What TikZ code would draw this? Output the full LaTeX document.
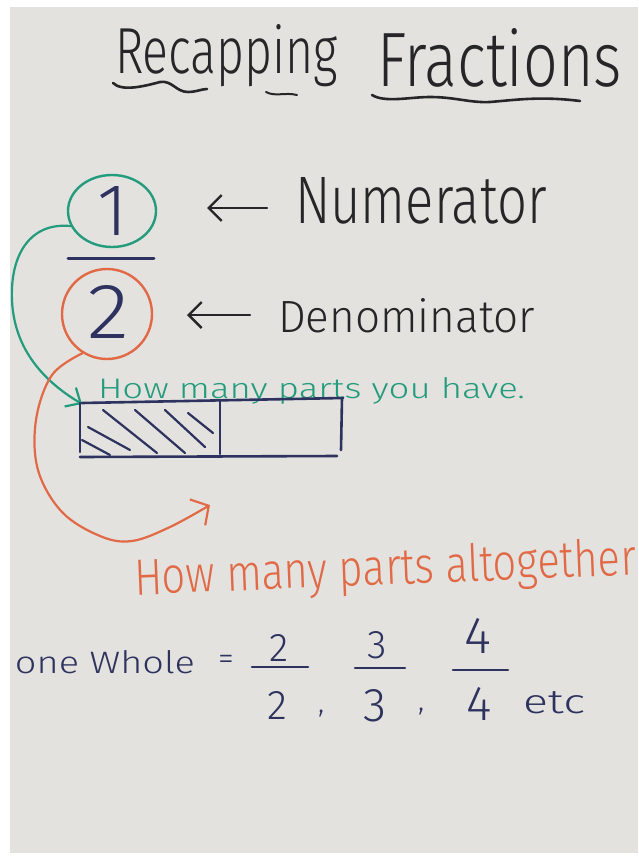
\documentclass[tikz,border=0pt]{standalone}
\usepackage{fontspec}
\setmainfont{Fira Sans Light}
\usepackage{graphicx}
\usetikzlibrary{arrows.meta,shapes.geometric}
\definecolor{paper}{RGB}{227,226,222}
\definecolor{mkblack}{RGB}{38,38,40}
\definecolor{mknavy}{RGB}{45,50,95}
\definecolor{mkgreen}{RGB}{35,155,125}
\definecolor{mkorange}{RGB}{225,105,70}
\newcommand\hw[3]{\resizebox{#1}{#2}{#3}}
\begin{document}
\begin{tikzpicture}[x=1pt,y=-1pt,
  txt/.style={inner sep=0pt, outer sep=0pt, anchor=base west},
  dig/.style={inner sep=0pt, outer sep=0pt, anchor=center, text=mknavy},
  pen/.style={line width=2.6pt, line cap=round, line join=round},
  ring/.style={ellipse, draw, line width=2.4pt, inner sep=0pt},
  barb/.style={-{Straight Barb[length=13pt,width=26pt,line width=2.4pt]}}]
\useasboundingbox (0,0) rectangle (638,859);
\fill[white] (0,0) rectangle (638,859);
\fill[paper] (10,7) rectangle (638,853);

% title
\node[txt, text=mkblack] (t1) at (115,74) {\hw{223pt}{49pt}{Recapping}};
\node[txt, text=mkblack] (t2) at (377,86) {\hw{245pt}{58pt}{Fractions}};
\draw[pen, mkblack] (113,83) .. controls (122,92) and (145,86) .. (160,82)
   .. controls (172,80) and (176,92) .. (188,92) .. controls (196,92) and (202,89) .. (207,89);
\draw[pen, mkblack, line width=2pt] (266,92) .. controls (275,97) and (285,92) .. (297,95);
\draw[pen, mkblack] (372,95) .. controls (385,103) and (410,97) .. (430,97)
   .. controls (455,97) and (470,103) .. (490,102) .. controls (515,100) and (540,96) .. (580,101);

% fraction 1/2
\node[ring, mkgreen, minimum width=88pt, minimum height=72pt] (one) at (112,211) {};
\node[dig] (n1) at (113,211) {\hw{!}{49pt}{1}};
\coordinate (fb1) at (68,258);
\coordinate (fb2) at (154,258);
\draw[pen, mknavy, line width=3pt] (fb1) -- (fb2);
\node[ring, mkorange, minimum width=90pt, minimum height=90pt] (two) at (107,314) {};
\node[dig] (d1) at (109,312) {\hw{42pt}{53pt}{2}};

% labels
\coordinate (na0) at (267,208);
\coordinate (na1) at (207,208);
\draw[pen, mkblack, line width=2.4pt, barb] (na0) -- (na1);
\node[txt, text=mkblack] (num) at (295,223) {\hw{252pt}{46pt}{Numerator}};
\coordinate (da0) at (250,315);
\coordinate (da1) at (187,315);
\draw[pen, mkblack, line width=2.4pt, barb] (da0) -- (da1);
\node[txt, text=mkblack] (den) at (278,332) {\hw{257pt}{34pt}{Denominator}};

% green connector
\coordinate (gTip) at (82,404);
\draw[pen, mkgreen, line width=2.2pt, -{Straight Barb[length=12pt,width=22pt,line width=2.2pt]}]
  (one.200) .. controls (30,222) and (10,255) .. (12,300)
  .. controls (14,350) and (45,382) .. (gTip);
\node[txt, text=mkgreen] (have) at (98,398) {\hw{427pt}{21pt}{How many parts you have.}};

% bar model
\coordinate (b1) at (82,403);
\coordinate (b2) at (343,398);
\coordinate (b3) at (80,457);
\coordinate (b4) at (337,456);
\draw[pen, mknavy] (b1) -- (b2);
\draw[pen, mknavy] (80,403) -- (80,452);
\draw[pen, mknavy] (220,401) -- (220,454);
\draw[pen, mknavy] (342,398) -- (341,450);
\draw[pen, mknavy] (b3) -- (b4);
\foreach \a/\b/\c/\d in {82/440/110/455, 88/427/130/450, 103/410/157/453,
                         135/410/185/453, 165/410/205/447, 188/413/213/433}
  \draw[pen, mknavy, line width=2.2pt] (\a,\b) -- (\c,\d);

% orange connector
\coordinate (oTip) at (210,505);
\draw[pen, mkorange, line width=2.2pt, -{Straight Barb[length=13pt,width=30pt,line width=2.2pt]}]
  plot[smooth, tension=0.6] coordinates {(two.238) (52,375) (36,420) (38,470) (62,512) (100,536) (132,541) (170,527) (oTip)};
\node[txt, text=mkorange, rotate=2.3] (alt) at (135,595) {\hw{502pt}{38pt}{How many parts altogether}};

% one whole
\node[txt, text=mknavy] (whole) at (15,673) {\hw{180pt}{23pt}{one Whole}};
\node[dig] (eq) at (226,662) {\fontsize{32}{32}\selectfont =};
\node[dig] (n2) at (279,648) {\hw{!}{27pt}{2}};
\draw[pen, mknavy] (252,667) -- (308,667);
\node[dig] (d2) at (277,705) {\hw{!}{28pt}{2}};
\node[txt, text=mknavy] (c1) at (318,712) {\fontsize{30}{30}\selectfont ,};
\node[dig] (n3) at (377,645) {\hw{!}{27pt}{3}};
\draw[pen, mknavy] (355,668) -- (405,668);
\node[dig] (d3) at (375,706) {\hw{!}{32pt}{3}};
\node[txt, text=mknavy] (c2) at (418,710) {\fontsize{30}{30}\selectfont ,};
\node[dig] (n4) at (478,636) {\hw{!}{35pt}{4}};
\draw[pen, mknavy] (453,670) -- (508,670);
\node[dig] (d4) at (479,704) {\hw{!}{33pt}{4}};
\node[txt, text=mknavy] (etc) at (523,713) {\hw{62pt}{22pt}{etc}};
\end{tikzpicture}
\end{document}
